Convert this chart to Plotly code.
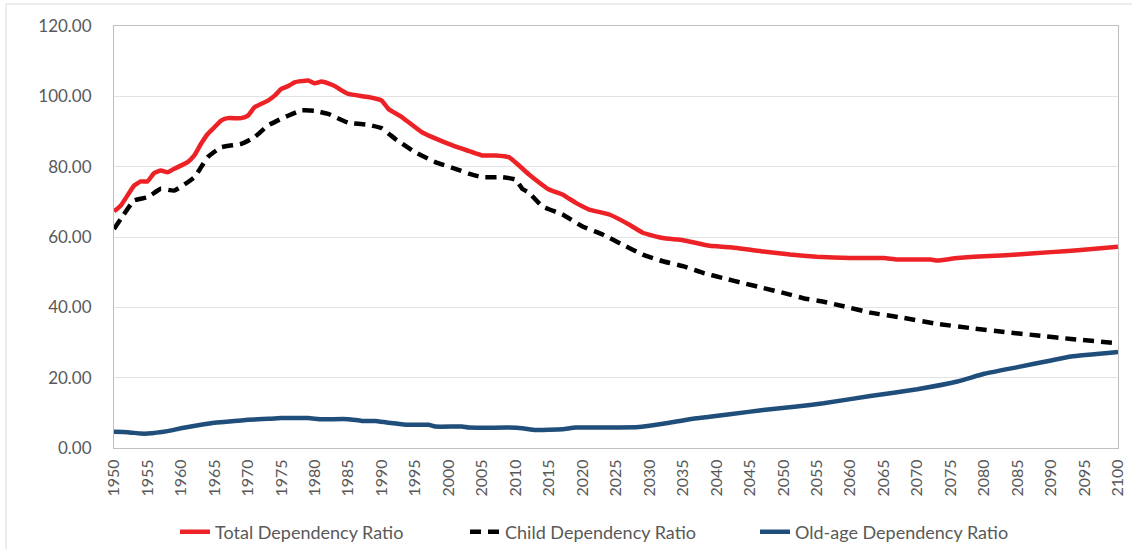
import plotly.graph_objects as go

# Total Dependency Ratio
total_years = [1950, 1951, 1953, 1954, 1955, 1956, 1957, 1958, 1959, 1961, 1962, 1963, 1964,
               1965, 1966, 1967, 1969, 1970, 1971, 1973, 1974, 1975, 1976, 1977, 1979, 1980,
               1981, 1982, 1983, 1984, 1985, 1988, 1990, 1991, 1993, 1996, 2000, 2002, 2005,
               2007, 2009, 2012, 2015, 2017, 2019, 2021, 2024, 2027, 2029, 2032, 2035, 2039,
               2042, 2047, 2051, 2055, 2060, 2065, 2067, 2072, 2073, 2076, 2080, 2085, 2090,
               2094, 2100]
total_vals = [67.3, 68.9, 74.6, 75.8, 75.8, 78.2, 78.9, 78.4, 79.4, 81.3, 83.2, 86.5, 89.3,
              91.2, 93.1, 93.8, 93.8, 94.5, 96.9, 98.8, 100.2, 102.1, 102.9, 104.0, 104.5, 103.7,
              104.2, 103.7, 102.9, 101.7, 100.7, 99.8, 98.8, 96.4, 94.1, 89.8, 86.5, 85.1, 83.2,
              83.2, 82.7, 77.8, 73.5, 72.1, 69.7, 67.8, 66.4, 63.5, 61.2, 59.7, 59.1, 57.5,
              57.1, 55.9, 55.0, 54.4, 54.0, 54.0, 53.6, 53.6, 53.3, 54.0, 54.5, 55.0, 55.7,
              56.2, 57.2]

# Child Dependency Ratio
child_years = [1950, 1951, 1953, 1955, 1957, 1959, 1962, 1963, 1964, 1966, 1969, 1971, 1973,
               1976, 1978, 1980, 1982, 1985, 1988, 1990, 1992, 1995, 1998, 2001, 2003, 2005,
               2008, 2010, 2011, 2012, 2014, 2017, 2020, 2023, 2026, 2029, 2032, 2035, 2038,
               2041, 2044, 2047, 2050, 2053, 2056, 2059, 2063, 2068, 2073, 2078, 2083, 2088,
               2093, 2100]
child_vals = [62.3, 65.1, 70.4, 71.3, 73.7, 73.2, 77.0, 79.8, 82.7, 85.5, 86.5, 88.4, 91.7,
              94.5, 96.0, 95.9, 95.0, 92.5, 91.9, 90.9, 87.9, 84.1, 81.3, 79.4, 78.0, 77.0,
              77.0, 76.3, 73.7, 72.6, 68.7, 66.4, 63.0, 60.7, 57.8, 55.0, 53.1, 51.7, 49.8,
              48.3, 46.9, 45.5, 44.1, 42.6, 41.6, 40.3, 38.5, 37.0, 35.3, 34.1, 33.0, 32.0,
              31.0, 29.8]

# Old-age Dependency Ratio
old_years = [1950, 1952, 1954, 1955, 1958, 1960, 1963, 1965, 1968, 1970, 1973, 1975, 1979,
             1981, 1985, 1987, 1989, 1991, 1994, 1997, 1998, 2002, 2003, 2009, 2011, 2013,
             2017, 2019, 2028, 2030, 2033, 2036, 2039, 2042, 2047, 2052, 2056, 2063, 2070,
             2076, 2080, 2085, 2090, 2093, 2100]
old_vals = [4.6, 4.5, 4.1, 4.1, 4.8, 5.6, 6.6, 7.2, 7.7, 8.0, 8.3, 8.5, 8.5,
            8.2, 8.2, 7.7, 7.7, 7.2, 6.6, 6.6, 6.1, 6.1, 5.8, 5.8, 5.6, 5.1,
            5.3, 5.8, 5.9, 6.3, 7.2, 8.2, 8.9, 9.6, 10.8, 11.8, 12.7, 14.8, 16.7,
            18.9, 21.1, 23.0, 24.9, 26.0, 27.3]

series_names = ["Total Dependency Ratio", "Child Dependency Ratio", "Old-age Dependency Ratio"]

FONT = "Lato, 'Open Sans', sans-serif"
GREY_TXT = "#595959"

fig = go.Figure()
fig.add_trace(go.Scatter(x=total_years, y=total_vals, mode="lines", name=series_names[0],
                         line=dict(color="#EC2227", width=4.5, shape="spline", smoothing=0.4)))
fig.add_trace(go.Scatter(x=child_years, y=child_vals, mode="lines", name=series_names[1],
                         line=dict(color="#000000", width=4.5, dash="11px,7px", shape="spline", smoothing=0.4)))
fig.add_trace(go.Scatter(x=old_years, y=old_vals, mode="lines", name=series_names[2],
                         line=dict(color="#1F4E7A", width=4.5, shape="spline", smoothing=0.4)))

L, R, T, B = 114, 14, 26, 101
PW, PH = 1132 - L - R, 549 - T - B

fig.update_layout(
    width=1132, height=549,
    margin=dict(l=L, r=R, t=T, b=B, autoexpand=False),
    paper_bgcolor="white", plot_bgcolor="white",
    font=dict(family=FONT, color=GREY_TXT, size=17),
    showlegend=True,
    legend=dict(orientation="h", x=(175 - L) / PW, xanchor="left",
                y=(549 - B - 532) / PH, yanchor="middle",
                font=dict(size=18, color=GREY_TXT), traceorder="normal",
                entrywidth=245, entrywidthmode="pixels"),
    shapes=[dict(type="rect", xref="paper", yref="paper",
                 x0=(6 - L) / PW, x1=(1140 - L) / PW,
                 y0=(549 - B - 560) / PH, y1=(549 - B - 4) / PH,
                 line=dict(color="#D9D9D9", width=1), fillcolor="rgba(0,0,0,0)", layer="below")],
)
fig.update_xaxes(range=[1950, 2100], tickmode="linear", tick0=1950, dtick=5, tickangle=-90,
                 showgrid=False, showline=True, linecolor="#BFBFBF", linewidth=1, mirror=True,
                 ticks="", ticklabelstandoff=4, tickfont=dict(size=16, color=GREY_TXT),
                 zeroline=False, automargin=False)
fig.update_yaxes(range=[0, 120], tickmode="linear", tick0=0, dtick=20, tickformat=".2f",
                 showgrid=True, gridcolor="#E3E3E3", gridwidth=1,
                 showline=True, linecolor="#BFBFBF", linewidth=1, mirror=True,
                 ticks="", ticklabelstandoff=18, tickfont=dict(size=17, color=GREY_TXT),
                 zeroline=False, automargin=False)

fig.write_html("out.html", config={"displayModeBar": False},
               post_script="document.body.style.margin='0px';document.body.style.overflow='hidden';")
